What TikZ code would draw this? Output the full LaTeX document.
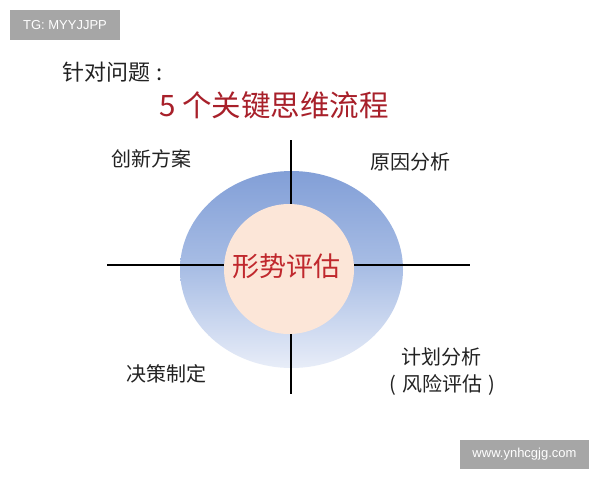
\documentclass[tikz,border=0pt]{standalone}
\usepackage{fontspec}
\usetikzlibrary{shapes.geometric}
\setmainfont{Noto Sans CJK SC}
\newfontfamily\wmfont{Liberation Sans}
\definecolor{wmgray}{HTML}{A6A6A6}
\definecolor{titlered}{HTML}{A8202A}
\definecolor{centerred}{HTML}{C0282D}
\definecolor{ringtop}{HTML}{829FD7}
\definecolor{ringmid}{HTML}{A9BEE5}
\definecolor{ringbot}{HTML}{E8EDF8}
\definecolor{peach}{HTML}{FCE6D8}
\definecolor{txtgray}{HTML}{222222}
\tikzset{
  wm/.style={fill=wmgray, text=white, inner sep=0pt, font=\wmfont\fontsize{13}{15}\selectfont},
  lbl/.style={text=txtgray, inner sep=0pt, font=\fontsize{20}{24}\selectfont, align=center},
  axis/.style={line width=2pt, black},
}
\begin{document}
\begin{tikzpicture}[x=1pt,y=-1pt]
\useasboundingbox (0,0) rectangle (600,480);
\fill[white] (0,0) rectangle (600,480);
% watermarks
\node[wm, minimum width=110pt, minimum height=30pt] (wm1) at (65,25) {TG: MYYJJPP};
\node[wm, minimum width=129pt, minimum height=29pt] (wm2) at (524.5,454.5) {www.ynhcgjg.com};
% titles
\node[inner sep=0pt, anchor=west, text=txtgray, font=\fontsize{22}{26}\selectfont] (t1) at (62,72) {针对问题\hspace{6pt}:};
\node[inner sep=0pt, anchor=west, text=titlered, font=\fontsize{29.5}{33}\selectfont] (t2) at (159,105) {5 个关键思维流程};
% ring and center
\node[ellipse, minimum width=223pt, minimum height=197pt, inner sep=0pt, draw=none, top color=ringtop, bottom color=ringbot, middle color=ringmid] (ring) at (291.5,269.5) {};
\node[circle, minimum size=130pt, inner sep=0pt, fill=peach] (core) at (289,269) {};
\node[text=centerred, inner sep=0pt, font=\fontsize{27}{30}\selectfont] (ctext) at (286,266) {形势评估};
% axes
\coordinate (vt) at (291,140);
\coordinate (vb) at (291,394);
\coordinate (hl) at (107,264.5);
\coordinate (hr) at (470,264.5);
\draw[axis] (vt) -- (core.north -| vt);
\draw[axis] (core.south -| vb) -- (vb);
\draw[axis] (hl) -- (core.west |- hl);
\draw[axis] (core.east |- hr) -- (hr);
% labels
\node[lbl] (l1) at (151,159) {创新方案};
\node[lbl] (l2) at (410,162) {原因分析};
\node[lbl] (l3) at (166,374) {决策制定};
\node[lbl] (l4a) at (441,357) {计划分析};
\node[lbl] (l4b) at (442,385) {(\hspace{6pt}风险评估\hspace{6pt})};
\end{tikzpicture}
\end{document}
